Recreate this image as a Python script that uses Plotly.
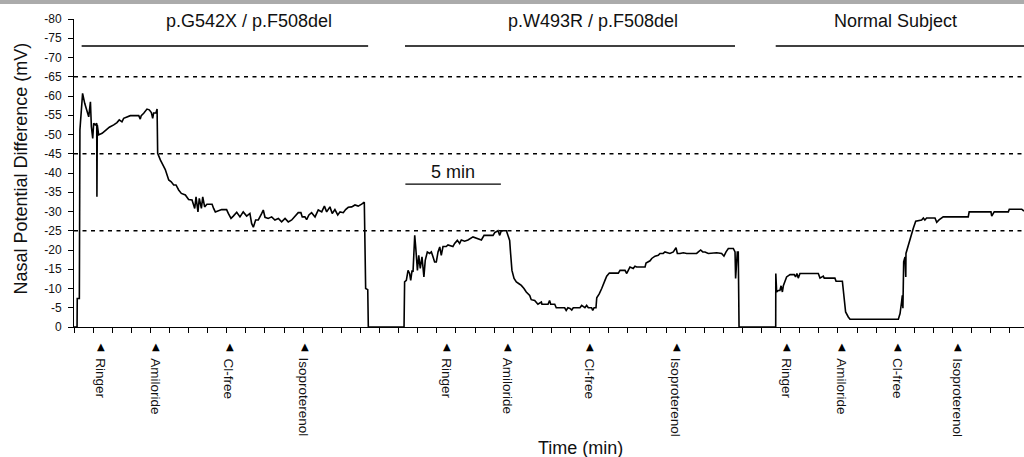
import plotly.graph_objects as go

# ---- Recorded nasal potential difference traces (time in min, PD in mV) ----
g542x_t = [0, 0.16, 0.17, 0.28, 0.31, 0.45, 0.56, 0.68, 0.77, 0.86, 0.91, 0.98, 1.03, 1.12, 1.19,
           1.20, 1.22, 1.29, 1.47, 1.64, 1.85, 2.08, 2.25, 2.37, 2.51, 2.60, 2.95, 3.39, 3.47, 3.52,
           3.65, 3.82, 3.94, 4.05, 4.12, 4.17, 4.29, 4.35, 4.38, 4.52, 4.64, 4.78, 4.96, 5.09, 5.22,
           5.34, 5.48, 5.62, 5.83, 6.00, 6.18, 6.32, 6.39, 6.49, 6.56, 6.67, 6.74, 6.84, 6.96, 7.23,
           7.31, 7.40, 7.73, 7.99, 8.08, 8.22, 8.34, 8.52, 8.69, 8.86, 9.04, 9.21, 9.30, 9.39, 9.51,
           9.65, 9.83, 9.91, 10.00, 10.17, 10.35, 10.52, 10.70, 10.87, 11.05, 11.22, 11.40, 11.57,
           11.74, 11.88, 11.95, 12.09, 12.18, 12.30, 12.44, 12.62, 12.79, 12.97, 13.11, 13.23, 13.40,
           13.52, 13.66, 13.81, 13.93, 14.10, 14.22, 14.36, 14.54, 14.71, 14.88, 15.06, 15.20, 15.27,
           15.38, 15.41]
g542x_mv = [0, 0, -7.4, -7.4, -51.2, -60.7, -58.1, -56.4, -54.6, -58.5, -52.0, -49.0, -52.9, -52.5, -52.9,
            -33.8, -52.5, -49.9, -50.3, -51.0, -51.9, -52.5, -53.1, -53.8, -53.3, -54.2, -54.9, -54.9, -54.0, -54.9,
            -55.5, -56.6, -56.4, -55.7, -54.2, -55.6, -55.6, -56.6, -45.1, -43.4, -42.1, -40.9, -38.2, -37.7, -36.9,
            -36.9, -35.6, -34.7, -34.3, -33.1, -33.0, -30.8, -33.8, -29.9, -33.4, -30.8, -33.8, -31.2, -31.9, -31.9,
            -30.8, -29.9, -30.5, -30.5, -29.5, -28.2, -28.8, -29.8, -28.6, -29.9, -28.8, -29.5, -26.9, -25.9, -27.8,
            -27.8, -29.5, -30.4, -28.5, -28.2, -28.6, -27.8, -28.2, -27.3, -28.2, -27.3, -27.8, -28.8,
            -29.7, -29.7, -28.6, -28.6, -27.9, -29.1, -29.7, -28.6, -30.4, -29.9, -31.4, -29.9, -31.2,
            -29.5, -30.5, -29.1, -29.9, -29.7, -30.5, -31.1, -31.2, -31.7, -31.4, -31.9, -32.4, -10.0,
            -9.7, 0]

w493r_t = [15.41, 17.28, 17.31, 17.40, 17.49, 17.57, 17.63, 17.70, 17.75, 17.84, 17.89, 17.98, 18.05, 18.13,
           18.22, 18.32, 18.39, 18.50, 18.62, 18.71, 18.80, 18.88, 18.97, 19.06, 19.15, 19.23, 19.32, 19.49,
           19.58, 19.84, 19.93, 20.07, 20.19, 20.28, 20.45, 20.63, 20.89, 21.24, 21.33, 21.47, 21.94, 22.03,
           22.20, 22.29, 22.37, 22.64, 22.72, 22.81, 22.86, 22.93, 23.04, 23.16, 23.28, 23.42, 23.56, 23.68,
           23.86, 23.94, 24.12, 24.29, 24.47, 24.50, 24.82, 24.90, 24.96, 25.17, 25.25, 25.69, 25.77, 25.86,
           25.97, 26.06, 26.14, 26.49, 26.58, 26.75, 26.84, 26.93, 27.10, 27.16, 27.23, 27.33, 27.37, 27.50,
           27.63, 27.71, 27.80, 27.89, 28.03, 28.50, 28.59, 28.85, 28.94, 29.02, 29.11, 29.28, 29.37, 29.46,
           29.90, 29.95, 30.16, 30.25, 30.42, 30.59, 30.68, 30.85, 30.94, 31.20, 31.38, 31.52, 31.59, 31.73,
           31.90, 32.08, 32.60, 32.69, 32.81, 32.92, 33.04, 33.21, 33.65, 33.91, 34.03, 34.14, 34.26, 34.52,
           34.61, 34.64, 34.73, 34.78, 34.82]
w493r_mv = [0, 0, -11.7, -12.1, -14.7, -13.9, -12.1, -14.7, -14.3, -23.8, -20.8, -14.7, -18.6, -15.2,
            -18.2, -13.0, -17.3, -19.5, -19.1, -19.5, -18.2, -16.9, -16.9, -19.5, -20.8, -18.6, -20.9, -20.9,
            -21.3, -20.9, -21.7, -22.5, -21.7, -22.6, -22.3, -22.6, -23.4, -22.9, -22.6, -23.8, -23.8, -24.5,
            -25.0, -23.8, -25.0, -25.0, -23.8, -22.5, -19.1, -14.7, -12.6, -11.7, -11.3, -10.8, -10.0, -9.1,
            -8.2, -7.1, -6.9, -5.9, -6.5, -5.9, -5.9, -6.9, -5.9, -5.9, -5.0, -5.0, -4.3, -5.0,
            -4.8, -4.4, -5.0, -5.0, -5.6, -5.0, -5.6, -5.0, -5.0, -4.3, -5.0, -5.0, -7.6, -8.6,
            -10.0, -11.3, -12.1, -13.2, -14.0, -14.0, -14.7, -14.7, -13.9, -14.7, -15.6, -15.2, -15.8, -15.6,
            -15.6, -16.6, -17.2, -17.8, -18.4, -18.6, -19.1, -19.1, -19.5, -19.1, -19.5, -20.6, -19.1, -19.1,
            -19.3, -19.1, -19.1, -19.5, -20.0, -19.5, -19.5, -19.1, -19.3, -19.1, -18.4, -19.5, -20.4, -20.4,
            -19.5, -12.6, -19.5, -19.5, 0]

normal_t = [34.82, 36.74, 36.745, 36.79, 36.88, 36.96, 37.02, 37.09, 37.14, 37.23, 37.31, 37.49, 37.71, 37.78,
            37.85, 37.92, 38.01, 38.97, 39.06, 39.23, 39.28, 39.84, 39.90, 40.23, 40.30, 40.33, 40.40, 40.54,
            40.63, 43.16, 43.25, 43.33, 43.37, 43.40, 43.44, 43.51, 43.55, 43.56, 43.68, 43.82, 43.94, 44.07,
            44.38, 44.47, 44.55, 44.64, 45.08, 45.17, 45.29, 45.51, 46.82, 46.87, 48.01, 48.05, 48.12, 48.18,
            48.92, 48.97, 49.62, 49.74]
normal_mv = [0, 0, -13.9, -9.1, -9.5, -9.5, -10.7, -9.1, -10.7, -12.1, -13.0, -13.6, -13.6, -13.0,
             -13.9, -12.7, -13.9, -13.9, -12.7, -13.2, -12.7, -12.7, -11.9, -11.9, -8.2, -5.6, -3.9, -2.6,
             -2.0, -2.0, -3.5, -6.5, -8.2, -4.9, -16.9, -18.2, -13.0, -19.1, -21.3, -23.9, -25.6, -27.5,
             -27.8, -28.3, -27.8, -28.3, -28.3, -27.2, -27.8, -28.6, -28.6, -29.9, -29.9, -28.8, -29.5, -29.9,
             -29.9, -30.6, -30.6, -30.1]

# ---- Solution changes (time in min) ----
event_times = [1.40, 4.28, 8.17, 12.09, 19.51, 22.74, 27.02, 31.55, 37.31, 40.19, 43.16, 46.30]
event_labels = ["Ringer", "Amiloride", "Cl-free", "Isoproterenol"] * 3

# ---- Subject groups: label, start/end of recording bar (min) ----
group_labels = ["p.G542X / p.F508del", "p.W493R / p.F508del", "Normal Subject"]
group_start = [0.40, 17.33, 36.74]
group_end = [15.40, 34.61, 49.74]
group_label_t = [9.16, 27.15, 43.0]

reference_levels = [-65, -45, -25]
y_ticks = list(range(-80, 1, 5))
x_max = 49.74

FONT = "Liberation Sans, Arial, Helvetica, sans-serif"
INK = "#111111"

fig = go.Figure()

for t, mv in [(g542x_t, g542x_mv), (w493r_t, w493r_mv), (normal_t, normal_mv)]:
    fig.add_trace(go.Scatter(x=t, y=mv, mode="lines",
                             line=dict(color="black", width=1.6),
                             showlegend=False, hoverinfo="skip"))

shapes = []
for lvl in reference_levels:
    shapes.append(dict(type="line", xref="x", yref="y", x0=0, x1=x_max, y0=lvl, y1=lvl,
                       line=dict(color="black", width=1.3, dash="4px,4.5px")))
for s, e in zip(group_start, group_end):
    shapes.append(dict(type="line", xref="x", yref="y", x0=s, x1=e, y0=-73, y1=-73,
                       line=dict(color="black", width=1.4)))
# 5 min scale bar
shapes.append(dict(type="line", xref="x", yref="y", x0=17.35, x1=22.35, y0=-37.1, y1=-37.1,
                   line=dict(color="black", width=1.4)))
# grey band along the top edge
shapes.append(dict(type="rect", xref="paper", yref="paper", x0=-0.08, x1=1.0, y0=1.0487, y1=1.07,
                   fillcolor="#ababab", line=dict(width=0), layer="above"))

annotations = []
for lab, tc in zip(group_labels, group_label_t):
    annotations.append(dict(x=tc, y=-79.4, xref="x", yref="y", text=lab, showarrow=False,
                            xanchor="center", yanchor="middle",
                            font=dict(family=FONT, size=18, color=INK)))
annotations.append(dict(x=19.85, y=-40.2, xref="x", yref="y", text="5 min", showarrow=False,
                        xanchor="center", yanchor="middle", font=dict(family=FONT, size=18, color=INK)))
# solution-change markers and their labels, placed below the time axis
for tc, lab in zip(event_times, event_labels):
    annotations.append(dict(x=tc, y=-0.0617, xref="x", yref="paper", text="\u25b2", showarrow=False,
                            xanchor="center", yanchor="middle",
                            font=dict(family="DejaVu Sans", size=10, color="black")))
    annotations.append(dict(x=tc, y=-0.094, xref="x", yref="paper", text=lab, showarrow=False,
                            textangle=90, xanchor="center", yanchor="top", xshift=-1,
                            font=dict(family=FONT, size=13.5, color=INK)))
annotations.append(dict(x=26.5, y=-0.393, xref="x", yref="paper", text="Time (min)", showarrow=False,
                        xanchor="center", yanchor="middle", font=dict(family=FONT, size=18, color=INK)))
annotations.append(dict(x=-0.0563, y=0.513, xref="paper", yref="paper",
                        text="Nasal Potential Difference (mV)", showarrow=False, textangle=-90,
                        xanchor="center", yanchor="middle", font=dict(family=FONT, size=18, color=INK)))

fig.update_layout(
    width=1024, height=457,
    margin=dict(l=74, r=0, t=19, b=130),
    paper_bgcolor="white", plot_bgcolor="white",
    font=dict(family=FONT, color=INK),
    shapes=shapes, annotations=annotations,
    showlegend=False,
)
fig.update_xaxes(range=[0, x_max], showgrid=False, zeroline=False, showline=True,
                 linecolor="black", linewidth=1, ticks="outside", ticklen=5, tickwidth=1,
                 tickcolor="black", tickvals=list(range(0, 50)), showticklabels=False)
fig.update_yaxes(range=[0, -80], showgrid=False, zeroline=False, showline=True,
                 linecolor="black", linewidth=1, ticks="outside", ticklen=5, tickwidth=1,
                 tickcolor="black", tickvals=y_ticks, ticktext=[str(v) for v in y_ticks],
                 tickfont=dict(family=FONT, size=12, color=INK), ticklabelstandoff=4)

fig.write_html("out.html")
